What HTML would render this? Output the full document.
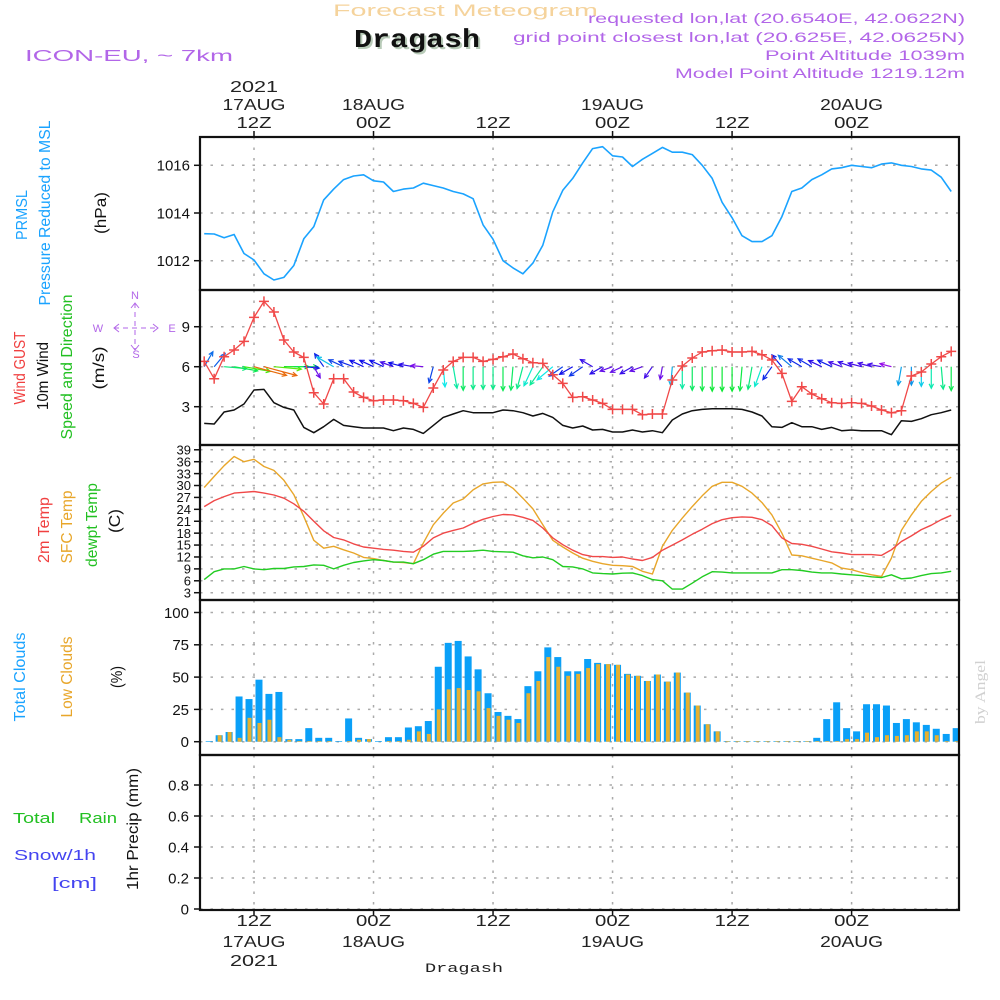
<!DOCTYPE html>
<html><head><meta charset="utf-8"><title>Forecast Meteogram Dragash</title>
<style>
html,body{margin:0;padding:0;background:#fff;}
svg{display:block;font-family:"Liberation Sans",sans-serif;}
</style></head>
<body>
<svg id="chart" width="1000" height="1000" viewBox="0 0 1000 1000" xmlns="http://www.w3.org/2000/svg">
<defs><clipPath id="plotclip"><rect x="200" y="137" width="759" height="773"/></clipPath></defs>
<rect x="0" y="0" width="1000" height="1000" fill="#fff"/>

<text x="333" y="16" font-size="17" fill="#f5d39c" textLength="265" lengthAdjust="spacingAndGlyphs">Forecast Meteogram</text>
<text x="356" y="49" font-size="26" font-weight="bold" fill="#b8cbb8" font-family="Liberation Mono, monospace" textLength="126" lengthAdjust="spacingAndGlyphs">Dragash</text>
<text x="354" y="47" font-size="26" font-weight="bold" fill="#111" font-family="Liberation Mono, monospace" textLength="126" lengthAdjust="spacingAndGlyphs">Dragash</text>
<text x="25" y="61" font-size="16" fill="#b266e8" textLength="208" lengthAdjust="spacingAndGlyphs">ICON-EU, ~ 7km</text>
<g fill="#b266e8" font-size="14" text-anchor="end">
<text x="965" y="23" textLength="377" lengthAdjust="spacingAndGlyphs">requested lon,lat (20.6540E, 42.0622N)</text>
<text x="965" y="42" textLength="452" lengthAdjust="spacingAndGlyphs">grid point closest lon,lat (20.625E, 42.0625N)</text>
<text x="965" y="60" textLength="200" lengthAdjust="spacingAndGlyphs">Point Altitude 1039m</text>
<text x="965" y="78" textLength="290" lengthAdjust="spacingAndGlyphs">Model Point Altitude 1219.12m</text>
</g>

<g font-size="16" text-anchor="middle">
<text transform="translate(27,215) rotate(-90)" fill="#1aa3ff" textLength="50" lengthAdjust="spacingAndGlyphs">PRMSL</text>
<text transform="translate(50,213) rotate(-90)" fill="#1aa3ff" textLength="185" lengthAdjust="spacingAndGlyphs">Pressure Reduced to MSL</text>
<text transform="translate(106,213) rotate(-90)" fill="#111" textLength="42" lengthAdjust="spacingAndGlyphs">(hPa)</text>
<text transform="translate(25,368) rotate(-90)" fill="#f04040" textLength="73" lengthAdjust="spacingAndGlyphs">Wind GUST</text>
<text transform="translate(48,376) rotate(-90)" fill="#111" textLength="68" lengthAdjust="spacingAndGlyphs">10m Wind</text>
<text transform="translate(72,367) rotate(-90)" fill="#22c022" textLength="145" lengthAdjust="spacingAndGlyphs">Speed and Direction</text>
<text transform="translate(104,368) rotate(-90)" fill="#111" textLength="43" lengthAdjust="spacingAndGlyphs">(m/s)</text>
<text transform="translate(49,530) rotate(-90)" fill="#f04040" textLength="66" lengthAdjust="spacingAndGlyphs">2m Temp</text>
<text transform="translate(72,527) rotate(-90)" fill="#e8a62a" textLength="73" lengthAdjust="spacingAndGlyphs">SFC Temp</text>
<text transform="translate(97,525) rotate(-90)" fill="#22c022" textLength="84" lengthAdjust="spacingAndGlyphs">dewpt Temp</text>
<text transform="translate(120,521) rotate(-90)" fill="#111" textLength="24" lengthAdjust="spacingAndGlyphs">(C)</text>
<text transform="translate(25,677) rotate(-90)" fill="#1aa3ff" textLength="89" lengthAdjust="spacingAndGlyphs">Total Clouds</text>
<text transform="translate(72,677) rotate(-90)" fill="#e8a62a" textLength="81" lengthAdjust="spacingAndGlyphs">Low Clouds</text>
<text transform="translate(122,677) rotate(-90)" fill="#111" textLength="22" lengthAdjust="spacingAndGlyphs">(%)</text>
<text transform="translate(138,829) rotate(-90)" fill="#111" textLength="122" lengthAdjust="spacingAndGlyphs">1hr Precip (mm)</text>
<text transform="translate(985,692) rotate(-90)" fill="#d0d0d0" font-family="Liberation Serif, serif" font-size="15" textLength="64" lengthAdjust="spacingAndGlyphs">by Angel</text>
</g>
<text x="13" y="823" font-size="15" fill="#22c022" textLength="42" lengthAdjust="spacingAndGlyphs">Total</text>
<text x="79" y="823" font-size="15" fill="#22c022" textLength="38" lengthAdjust="spacingAndGlyphs">Rain</text>
<text x="14" y="860" font-size="15" fill="#4444f0" textLength="82" lengthAdjust="spacingAndGlyphs">Snow/1h</text>
<text x="52" y="888" font-size="15" fill="#4444f0" textLength="45" lengthAdjust="spacingAndGlyphs">[cm]</text>

<g fill="#b266e8" stroke="#b266e8" font-size="11" text-anchor="middle">
<text x="135" y="299" stroke="none">N</text>
<text x="98" y="332" stroke="none">W</text>
<text x="172" y="332" stroke="none">E</text>
<text x="136" y="358" stroke="none">S</text>
<line x1="114" y1="328" x2="158" y2="328" stroke-dasharray="5 4" stroke-width="1"/>
<line x1="135" y1="303" x2="135" y2="350" stroke-dasharray="5 4" stroke-width="1"/>
<polyline points="119,324 114,328 119,332" fill="none" stroke-width="1"/>
<polyline points="153,324 158,328 153,332" fill="none" stroke-width="1"/>
<polyline points="131,308 135,303 139,308" fill="none" stroke-width="1"/>
<polyline points="131,345 135,350 139,345" fill="none" stroke-width="1"/>
</g>

<g id="grid"></g>
<g id="data" clip-path="url(#plotclip)"></g>
<g id="axes"></g>
<text x="464" y="972" font-size="13" fill="#222" text-anchor="middle" font-family="Liberation Mono, monospace" textLength="78" lengthAdjust="spacingAndGlyphs">Dragash</text>
</svg>

<script>
const lineHours = [-5,-4,-3,-2,-1,0,1,2,3,4,5,6,7,8,9,10,11,12,13,14,15,16,17,18,19,20,21,22,23,24,25,26,27,28,29,30,31,32,33,34,35,36,37,38,39,40,41,42,43,44,45,46,47,48,49,50,51,52,53,54,55,56,57,58,59,60,61,62,63,64,65,66,67,68,69,70];
const barHours = [-4,-3,-2,-1,0,1,2,3,4,5,6,7,8,9,10,11,12,13,14,15,16,17,18,19,20,21,22,23,24,25,26,27,28,29,30,31,32,33,34,35,36,37,38,39,40,41,42,43,44,45,46,47,48,49,50,51,52,53,54,55,56,57,58,59,60,61,62,63,64,65,66,67,68,69,70,71];
const pressure = [1013.13,1013.12,1012.96,1013.1,1012.3,1012.03,1011.45,1011.19,1011.3,1011.8,1012.92,1013.43,1014.55,1015.0,1015.4,1015.55,1015.6,1015.35,1015.3,1014.9,1015.0,1015.05,1015.25,1015.15,1015.05,1014.9,1014.8,1014.6,1013.5,1012.9,1012.0,1011.7,1011.45,1011.9,1012.65,1014.05,1014.95,1015.45,1016.1,1016.7,
1016.78,1016.4,1016.35,1015.95,1016.25,1016.5,1016.75,1016.55,1016.55,1016.45,1016.0,1015.45,1014.45,1013.8,1013.05,1012.8,1012.8,1013.05,1013.85,1014.9,1015.05,1015.4,1015.6,1015.85,1015.9,1016.0,1015.95,1015.9,1016.05,1016.1,1016.0,1015.95,1015.85,1015.8,1015.5,1014.9];
const windGust = [6.4,5.1,6.75,7.25,7.9,9.7,10.9,10.1,8.0,7.1,6.7,4.05,3.2,5.1,5.1,4.1,3.7,3.45,3.5,3.5,3.45,3.25,2.95,4.4,5.75,6.4,6.7,6.7,6.4,6.55,6.75,6.95,6.6,6.3,6.25,5.4,4.75,3.7,3.75,3.5,
3.25,2.8,2.8,2.8,2.4,2.45,2.45,5.0,6.05,6.65,7.1,7.2,7.25,7.1,7.1,7.15,6.9,6.5,5.5,3.4,4.5,3.95,3.6,3.3,3.25,3.3,3.25,3.05,2.75,2.55,2.7,5.3,5.6,6.2,6.75,7.15];
const windSpeed = [1.75,1.7,2.6,2.75,3.2,4.25,4.3,3.3,2.95,2.75,1.45,1.05,1.5,2.05,1.6,1.5,1.4,1.4,1.4,1.2,1.4,1.3,1.0,1.6,2.2,2.45,2.7,2.55,2.55,2.55,2.75,2.7,2.55,2.3,2.5,2.2,1.6,1.4,1.55,1.25,
1.3,1.1,1.1,1.25,1.1,1.2,1.05,2.0,2.45,2.7,2.8,2.85,2.85,2.85,2.8,2.6,2.3,1.5,1.45,1.8,1.5,1.5,1.3,1.45,1.2,1.25,1.2,1.2,1.2,0.9,1.95,1.9,2.1,2.4,2.55,2.75];
const windToDir = [30,40,95,100,100,105,105,95,90,90,95,150,325,300,295,290,295,295,295,290,285,280,275,195,175,170,180,180,180,180,180,185,195,205,215,230,235,240,235,300,
240,250,245,240,250,215,190,185,180,180,180,180,180,180,185,190,200,215,320,310,300,300,295,295,290,290,285,285,280,285,190,180,180,180,175,180];
const temp2m = [24.7,26.2,27.2,28.1,28.3,28.5,28.1,27.6,26.8,25.4,23.5,21.0,18.6,16.9,16.3,15.3,14.5,14.2,13.9,13.7,13.4,13.2,14.7,16.8,18.0,18.7,19.3,20.5,21.5,22.2,22.7,22.6,22.0,21.2,19.3,16.8,15.1,13.7,12.6,12.1,
12.1,11.9,12.0,11.5,11.1,11.9,13.7,15.0,16.3,17.7,19.0,20.4,21.4,21.9,22.1,22.0,21.4,19.9,16.8,15.4,15.2,14.7,14.0,13.3,13.0,12.6,12.6,12.6,12.4,13.8,15.9,17.3,18.9,20.0,21.4,22.5];
const tempSfc = [29.5,32.3,35.0,37.3,36.0,36.6,34.8,33.8,31.3,27.7,22.2,16.2,14.2,14.7,13.8,13.0,11.9,11.6,11.1,10.7,10.6,10.3,15.5,20.1,23.0,25.6,26.6,28.9,30.4,30.8,30.9,29.3,26.8,24.1,20.1,16.2,14.5,13.0,11.7,10.9,
10.3,9.9,9.8,9.6,8.4,7.7,14.7,18.7,21.8,24.7,27.4,29.8,30.8,30.8,29.8,28.1,25.7,22.6,18.0,12.5,12.3,11.7,11.1,10.5,9.2,8.8,8.1,7.5,7.1,11.7,18.7,22.6,26.0,28.5,30.6,32.1];
const tempDew = [6.3,8.3,9.0,9.0,9.6,9.0,8.8,9.1,9.1,9.5,9.6,10.0,9.9,9.0,9.9,10.6,11.0,11.3,11.1,10.7,10.7,10.3,11.3,12.7,13.4,13.4,13.4,13.5,13.7,13.4,13.3,13.2,12.3,11.8,12.0,11.3,9.6,9.5,9.0,8.0,
7.8,7.7,7.9,8.0,7.3,6.3,6.0,3.9,3.9,5.4,7.0,8.3,8.2,8.0,8.0,8.0,8.0,8.0,8.8,8.8,8.6,8.2,8.0,8.0,7.7,7.5,7.3,7.0,6.8,7.5,6.5,6.7,7.3,7.8,8.0,8.4];
const totalClouds = [0.5,5,7.5,35,33,48,37,38.5,2,2,10.5,3,3,0.5,18,3,2,0.5,3.5,3.5,11,12,16,58,76.5,78,66,56,37.5,23,20,17.5,43,54.5,73,65.5,54.5,54.5,64,61,
60,59.5,52.5,51,47,52,46.5,53.5,38,28,13.5,8,0.5,0.5,0.5,0.5,0.5,0.5,0.5,0.5,0.5,3,17.5,30.5,10.5,8,29,29,28,14.5,17.5,15,13,10,6,10.5];
const lowClouds = [0,5,7.5,3,18.5,14.5,17,3.5,1.5,0.5,0.5,0.5,0.5,0,0.5,1.5,2,0,0.5,0.5,1.5,8,6,25,40.5,41.5,40,39,26,20,17,14.5,37.5,47,65.5,58,51,52.5,57,60,
60,59.5,52,51,47,52,46.5,53.5,38,28,13.5,8,0.5,0.5,0.5,0.5,0.5,0.5,0.5,0.5,0.5,0.5,0.5,0.5,2,2,7,3.5,5,4.5,5,8,8,5,0.5,0.5];
const precip = [];
const gridHours = [0,12,24,36,48,60];
const topTimeLabels = ["12Z","00Z","12Z","00Z","12Z","00Z"];
const dayLabels = ["17AUG","18AUG","","19AUG","","20AUG"];
const pressureTicks = [1012,1014,1016];
const windTicks = [3,6,9];
const tempTicks = [3,6,9,12,15,18,21,24,27,30,33,36,39];
const cloudTicks = [0,25,50,75,100];
const precipTicks = [0,0.2,0.4,0.6,0.8];

const NS='http://www.w3.org/2000/svg';
const X0=254, PX=9.96, LEFT=200, RIGHT=959;
function x(h){return X0+h*PX;}
function yP(p){return 260.7-(p-1012)*23.85;}
function yW(v){return 406.7-(v-3)*13.33;}
function yT(t){return 592.7-(t-3)*3.97;}
function yC(c){return 741.7-c*1.292;}
function yR(r){return 909-r*155;}
function mk(tag,attrs,parent){const e=document.createElementNS(NS,tag);for(const k in attrs)e.setAttribute(k,attrs[k]);parent.appendChild(e);return e;}
const G=document.getElementById('grid'), D=document.getElementById('data'), A=document.getElementById('axes');
const panels=[[137,290],[290,445],[445,600],[600,755],[755,910]];

panels.forEach(function(p){
  gridHours.forEach(function(h){
    const l=mk('line',{x1:x(h),x2:x(h),y1:p[0],y2:p[1],stroke:'#aaa','stroke-width':1.5,'stroke-dasharray':'2.5 8'},G);
    
    
  });
});
function hgrid(ticks,yf,labelX,fs,fmt,name){
  ticks.forEach(function(t){
    const y=yf(t);
    const l=mk('line',{x1:LEFT,x2:RIGHT,y1:y,y2:y,stroke:'#aaa','stroke-width':1.5,'stroke-dasharray':'2.5 8'},G);
    
    
    const tk=mk('line',{x1:LEFT-6,x2:LEFT,y1:y,y2:y,stroke:'#111','stroke-width':1.5},A);
    
    
    const tx=mk('text',{x:labelX,y:y+fs*0.36,'font-size':fs,'text-anchor':'end',fill:'#111'},A);
    
    
    tx.textContent=fmt(t);
  });
}
hgrid(pressureTicks,yP,190,15,function(t){return String(t);},'pressure');
hgrid(windTicks,yW,190,15,function(t){return String(t);},'wind');
hgrid(tempTicks,yT,191,13,function(t){return String(t);},'temp');
hgrid(cloudTicks,yC,189,15,function(t){return String(t);},'cloud');
hgrid(precipTicks,yR,189,15,function(t){return t===0?'0':t.toFixed(1);},'precip');

function pline(vals,yf,color,w,name){
  const pts=vals.map(function(v,i){return x(lineHours[i]).toFixed(1)+','+yf(v).toFixed(1);}).join(' ');
  const pl=mk('polyline',{points:pts,fill:'none',stroke:color,'stroke-width':w,'stroke-linejoin':'round'},D);
  
  
}
pline(pressure,yP,'#1aa3ff',1.6,'pressure-line');
pline(windSpeed,yW,'#111',1.5,'wind-speed-line');

windToDir.forEach(function(d,i){
  const s=windSpeed[i];
  const len=6+6.5*s;
  const hue=Math.max(25,270-75*(s-1));
  const col='hsl('+hue.toFixed(0)+',90%,48%)';
  const a=d*Math.PI/180;
  const x0=x(lineHours[i]), y0=yW(6);
  const x1=x0+Math.sin(a)*len, y1=y0-Math.cos(a)*len;
  const g=mk('g',{stroke:col,'stroke-width':1.2,fill:'none'},D);
  
  
  mk('line',{x1:x0,y1:y0,x2:x1,y2:y1},g);
  const b=a+Math.PI, hl=5;
  const h1x=x1+Math.sin(b+0.45)*hl, h1y=y1-Math.cos(b+0.45)*hl;
  const h2x=x1+Math.sin(b-0.45)*hl, h2y=y1-Math.cos(b-0.45)*hl;
  mk('polyline',{points:h1x.toFixed(1)+','+h1y.toFixed(1)+' '+x1.toFixed(1)+','+y1.toFixed(1)+' '+h2x.toFixed(1)+','+h2y.toFixed(1)},g);
});

pline(windGust,yW,'#f04848',1.3,'wind-gust-line');
windGust.forEach(function(v,i){
  const cx=x(lineHours[i]), cy=yW(v);
  const p=mk('path',{d:'M'+(cx-5)+' '+cy+'h10M'+cx+' '+(cy-5)+'v10',stroke:'#f04848','stroke-width':1.5,fill:'none'},D);
  
  
});

pline(tempSfc,yT,'#e8a62a',1.4,'sfc-temp-line');
pline(temp2m,yT,'#f04848',1.4,'2m-temp-line');
pline(tempDew,yT,'#22cc22',1.4,'dewpt-temp-line');

totalClouds.forEach(function(v,i){
  const cx=x(barHours[i]-0.5);
  const r=mk('rect',{x:cx-3.5,y:yC(v),width:7,height:yC(0)-yC(v),fill:'#0aa0f8'},D);
  
  
});
lowClouds.forEach(function(v,i){
  const cx=x(barHours[i]-0.5);
  const r=mk('rect',{x:cx-1.5,y:yC(v),width:4,height:yC(0)-yC(v),fill:'#e6b030'},D);
  
  
});
precip.forEach(function(v,i){
  const cx=x(barHours[i]-0.5);
  const r=mk('rect',{x:cx-3.5,y:yR(v),width:7,height:yR(0)-yR(v),fill:'#22cc22'},D);
  
  
});

panels.forEach(function(p,i){
  const r=mk('rect',{x:LEFT,y:p[0],width:RIGHT-LEFT,height:p[1]-p[0],fill:'none',stroke:'#111','stroke-width':2.2},A);
  
  
});
gridHours.forEach(function(h,i){
  const xx=x(h);
  const t1=mk('line',{x1:xx,x2:xx,y1:131,y2:137,stroke:'#111','stroke-width':1.5},A);
  
  
  const t2=mk('line',{x1:xx,x2:xx,y1:910,y2:916,stroke:'#111','stroke-width':1.5},A);
  
  
  const a=mk('text',{x:xx,y:128,'font-size':16,'text-anchor':'middle',fill:'#222',textLength:35,lengthAdjust:'spacingAndGlyphs'},A);
  
  
  a.textContent=topTimeLabels[i];
  const b=mk('text',{x:xx,y:926,'font-size':16,'text-anchor':'middle',fill:'#222',textLength:35,lengthAdjust:'spacingAndGlyphs'},A);
  
  
  b.textContent=topTimeLabels[i];
  if(dayLabels[i]){
    const c=mk('text',{x:xx,y:110,'font-size':16,'text-anchor':'middle',fill:'#222',textLength:63,lengthAdjust:'spacingAndGlyphs'},A);
    
    
    c.textContent=dayLabels[i];
    const e=mk('text',{x:xx,y:947,'font-size':16,'text-anchor':'middle',fill:'#222',textLength:63,lengthAdjust:'spacingAndGlyphs'},A);
    
    
    e.textContent=dayLabels[i];
  }
  if(i===0){
    const f=mk('text',{x:xx,y:92,'font-size':16,'text-anchor':'middle',fill:'#222',textLength:48,lengthAdjust:'spacingAndGlyphs'},A);
    
    
    f.textContent='2021';
    const g=mk('text',{x:xx,y:966,'font-size':16,'text-anchor':'middle',fill:'#222',textLength:48,lengthAdjust:'spacingAndGlyphs'},A);
    
    
    g.textContent='2021';
  }
});
</script>
</body></html>
